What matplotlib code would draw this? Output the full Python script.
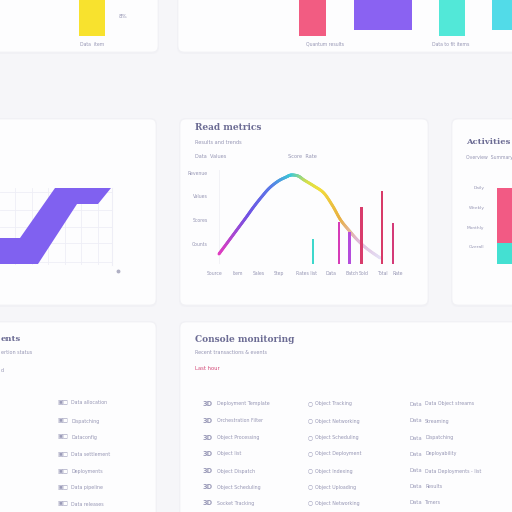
import numpy as np
import matplotlib
matplotlib.use("Agg")
import matplotlib.pyplot as plt
from matplotlib.patches import FancyBboxPatch
from matplotlib.collections import LineCollection
from matplotlib.colors import LinearSegmentedColormap

# ---------------- data ----------------
# top strip bars (cut off by the frame)
top_pos = [92, 312, 383, 452, 505]
top_vals = [120, 120, 114, 120, 114]
top_bottoms = [0, 0, 6, 0, 6]
top_widths = [26, 27, 58, 26, 26]
top_colors = ["#f8e22e", "#f25c82", "#8a62f2", "#52e8d8", "#52dbe8"]
top_labels = ["Data  item", "Quantum results", "Data to fit items"]

# left step band
band_top_x = [0, 20, 55, 111]
band_top_y = [27, 27, 77, 77]
band_bot_x = [111, 98, 77, 38, 0]
band_bot_y = [77, 61, 61, 1, 1]

# main line
line_x = [2, 11, 20, 29, 37, 45, 53, 62, 70, 75, 82, 88, 98, 108, 117, 125, 134, 142, 152, 165]
line_y = [10, 22, 34, 46, 57, 67, 76, 83, 87, 89, 88, 84, 78, 71, 58, 44, 33, 24, 15, 6]
# thin bars
bar_x = [97, 123, 134, 146, 167, 178]
bar_h = [25, 42, 32, 57, 73, 41]
bar_colors = ["#3ed8cc", "#d63cb8", "#b44cdc", "#d83c6c", "#d83a68", "#d43a78"]
x_ticks = [-2, 21, 42, 63, 90, 115, 137, 148, 167, 183]
x_labels = ["Source", "Item", "Sales", "Step", "Rates list", "Data", "Batch", "Sold", "Total", "Rate"]
y_ticks = [91, 68, 44, 20]
y_labels = ["Revenue", "Values", "Scores", "Counts"]

# activities stacked bar
act_teal = [21]
act_pink = [55]
act_ticks = [77, 57, 37, 17]
act_labels = ["Daily", "Weekly", "Monthly", "Overall"]

# lists
left_rows = ["Data allocation", "Dispatching", "Dataconfig", "Data settlement",
             "Deployments", "Data pipeline", "Data releases"]
col1 = ["Deployment Template", "Orchestration Filter", "Object Processing", "Object list",
        "Object Dispatch", "Object Scheduling", "Socket Tracking"]
col2 = ["Object Tracking", "Object Networking", "Object Scheduling", "Object Deployment",
        "Object Indexing", "Object Uploading", "Object Networking"]
col3 = ["Data Object streams", "Streaming", "Dispatching", "Deployability",
        "Data Deployments - list", "Results", "Timers"]

# ---------------- figure ----------------
BG = "#f6f6f9"
CARD = "#fdfdfe"
TXT = "#9696b4"
TITLE = "#6c6c94"

fig = plt.figure(figsize=(5.12, 5.12), dpi=100, facecolor=BG)
bg = fig.add_axes([0, 0, 1, 1], zorder=0)
bg.set_xlim(0, 512)
bg.set_ylim(512, 0)
bg.axis("off")
bg.set_facecolor(BG)


def px_axes(x0, y0, x1, y1, z=2):
    ax = fig.add_axes([x0 / 512, 1 - y1 / 512, (x1 - x0) / 512, (y1 - y0) / 512], zorder=z)
    ax.patch.set_alpha(0)
    for s in ax.spines.values():
        s.set_visible(False)
    return ax


def card(x0, y0, x1, y1):
    bg.add_patch(FancyBboxPatch((x0 - 1, y0 - 1), x1 - x0 + 2, y1 - y0 + 3,
                                boxstyle="round,pad=0,rounding_size=7",
                                fc="#eeeef3", ec="none", alpha=0.5, zorder=1))
    bg.add_patch(FancyBboxPatch((x0, y0), x1 - x0, y1 - y0,
                                boxstyle="round,pad=0,rounding_size=6",
                                fc=CARD, ec="#f1f1f5", lw=0.5, zorder=1.1))


card(-20, -30, 158, 52)
card(178, -30, 540, 52)
card(-20, 119, 156, 305)
card(180, 119, 428, 305)
card(452, 119, 540, 305)
card(-20, 322, 156, 540)
card(180, 322, 540, 540)

# ---------------- top strip ----------------
axt = px_axes(0, -100, 512, 36)
axt.bar(top_pos, top_vals, width=top_widths, bottom=top_bottoms, color=top_colors)
axt.set_xlim(0, 512)
axt.set_ylim(0, 136)
axt.set_xticks([])
axt.set_yticks([])
bg.text(92, 44, top_labels[0], fontsize=3.3, color=TXT, ha="center", va="center", zorder=3)
bg.text(325, 44, top_labels[1], fontsize=3.3, color=TXT, ha="center", va="center", zorder=3)
bg.text(451, 44, top_labels[2], fontsize=3.3, color=TXT, ha="center", va="center", zorder=3)
bg.text(123, 16, "8%", fontsize=4, color=TXT, ha="center", va="center", zorder=3)

# ---------------- left step chart ----------------
axl = px_axes(0, 188, 112, 265)
axl.set_xlim(0, 112)
axl.set_ylim(0, 77)
axl.set_xticks(np.arange(15, 112, 16.6))
axl.set_yticks([3, 22, 38, 55, 73])
axl.grid(True, color="#eeeef6", lw=0.6)
axl.tick_params(length=0, labelbottom=False, labelleft=False)
axl.fill(band_top_x + band_bot_x, band_top_y + band_bot_y, color="#8061f0", zorder=3, lw=0)
axl.spines["right"].set_visible(True)
axl.spines["right"].set_color("#eeeef6")
bg.plot([118], [271], "o", ms=1.8, color="#b0b0c4", zorder=3)

# ---------------- main chart ----------------
bg.text(195, 127, "Read metrics", fontsize=6.5, color=TITLE, ha="left", va="center", zorder=3,
        fontweight="bold", family="DejaVu Serif")
bg.text(195, 142, "Results and trends", fontsize=3.6, color=TXT, ha="left", va="center", zorder=3)
bg.text(195, 157, "Data  Values", fontsize=3.6, color=TXT, ha="left", va="center", zorder=3)
bg.text(288, 157, "Score  Rate", fontsize=3.6, color=TXT, ha="left", va="center", zorder=3)

axm = px_axes(215, 170, 400, 264)
axm.set_xlim(0, 185)
axm.set_ylim(0, 94)


def catmull(xs, ys, n=12):
    P = np.column_stack([xs, ys]).astype(float)
    P = np.vstack([P[0], P, P[-1]])
    out = []
    t = np.linspace(0, 1, n, endpoint=False)[:, None]
    for i in range(1, len(P) - 2):
        p0, p1, p2, p3 = P[i - 1], P[i], P[i + 1], P[i + 2]
        seg = 0.5 * ((2 * p1) + (-p0 + p2) * t + (2 * p0 - 5 * p1 + 4 * p2 - p3) * t ** 2
                     + (-p0 + 3 * p1 - 3 * p2 + p3) * t ** 3)
        out.append(seg)
    out.append(P[-2][None, :])
    return np.vstack(out)


pts = catmull(line_x, line_y)
segs = np.stack([pts[:-1], pts[1:]], axis=1)
cmap = LinearSegmentedColormap.from_list("g", [
    (0.0, "#e23cc0"), (0.18, "#7052e4"), (0.32, "#5a7ae8"), (0.45, "#3ccad6"),
    (0.55, "#d8e048"), (0.63, "#f2de3c"), (0.75, "#e8b040"), (0.86, "#e0b8d8"),
    (1.0, "#e4e0f6")])
frac = (pts[:-1, 0] - pts[0, 0]) / (pts[-1, 0] - pts[0, 0])
lc = LineCollection(segs, colors=cmap(frac), linewidths=2.1, capstyle="round", zorder=2)
axm.add_collection(lc)
for bx, bh, bc in zip(bar_x, bar_h, bar_colors):
    axm.bar([bx], [bh], width=2.2, color=bc, linewidth=0, zorder=3)
axm.set_xticks(x_ticks)
axm.set_xticklabels(x_labels)
axm.set_yticks(y_ticks)
axm.set_yticklabels(y_labels)
axm.tick_params(length=0, labelsize=3.3, colors=TXT, pad=5)
axm.axvline(2, color="#f0f0f5", lw=0.6, zorder=0)

# ---------------- activities ----------------
bg.text(466, 142, "Activities", fontsize=6, color=TITLE, ha="left", va="center", zorder=3,
        fontweight="bold", family="DejaVu Serif")
bg.text(466, 157, "Overview  Summary", fontsize=3.3, color=TXT, ha="left", va="center", zorder=3)
axa = px_axes(497, 180, 530, 264)
axa.set_xlim(0, 1)
axa.set_ylim(0, 84)
axa.bar([0.5], act_teal, width=1, color="#44e0d2")
axa.bar([0.5], act_pink, width=1, bottom=act_teal, color="#f25a84")
axa.set_xticks([])
axa.set_yticks(act_ticks)
axa.set_yticklabels(act_labels)
axa.tick_params(length=0, labelsize=3.2, colors=TXT, pad=9)

# ---------------- bottom left list ----------------
bg.text(1, 339, "ents", fontsize=6, color=TITLE, ha="left", va="center", zorder=3,
        fontweight="bold", family="DejaVu Serif")
bg.text(1, 353, "ertion status", fontsize=3.5, color=TXT, ha="left", va="center", zorder=3)
bg.text(1, 370, "d", fontsize=3.5, color=TXT, ha="left", va="center", zorder=3)
row_y = [403, 421, 437, 455, 472, 488, 504]
for y, t in zip(row_y, left_rows):
    bg.text(57, y, "▣▢", fontsize=4.2, color="#9a9ab8", ha="left", va="center", zorder=3)
    bg.text(71, y, t, fontsize=3.4, color=TXT, ha="left", va="center", zorder=3)

# ---------------- console monitoring ----------------
bg.text(195, 339, "Console monitoring", fontsize=6.5, color=TITLE, ha="left", va="center", zorder=3,
        fontweight="bold", family="DejaVu Serif")
bg.text(195, 353, "Recent transactions & events", fontsize=3.5, color=TXT, ha="left", va="center", zorder=3)
bg.text(195, 369, "Last hour", fontsize=3.8, color="#d44a78", ha="left", va="center", zorder=3)
row_y2 = [404, 421, 438, 454, 471, 487, 503]
for y, a, b, c in zip(row_y2, col1, col2, col3):
    bg.text(203, y, "3D", fontsize=4.8, color="#9a9ab8", ha="left", va="center", zorder=3,
            fontweight="bold")
    bg.text(217, y, a, fontsize=3.4, color=TXT, ha="left", va="center", zorder=3)
    bg.text(308, y, "○", fontsize=4.2, color="#9a9ab8", ha="left", va="center", zorder=3)
    bg.text(315, y, b, fontsize=3.4, color=TXT, ha="left", va="center", zorder=3)
    bg.text(409, y, "Data", fontsize=3.8, color="#9a9ab8", ha="left", va="center", zorder=3)
    bg.text(425, y, c, fontsize=3.4, color=TXT, ha="left", va="center", zorder=3)

fig.savefig("out.png", dpi=100, facecolor=BG)
